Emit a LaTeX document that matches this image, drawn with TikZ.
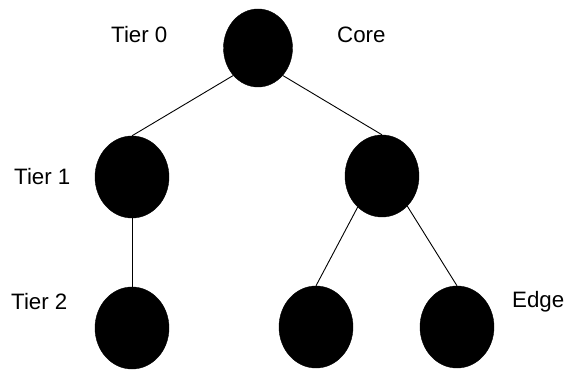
\documentclass[tikz,border=0pt]{standalone}
\usepackage{fontspec}
\setmainfont{Liberation Sans}
\usetikzlibrary{shapes.geometric}
\begin{document}
\begin{tikzpicture}[x=1pt,y=-1pt,
  vertex/.style={ellipse,fill=black,draw=black,inner sep=0pt,minimum width=74pt,minimum height=82pt},
  lbl/.style={anchor=base west,inner sep=0pt,font=\fontsize{22.3}{25}\selectfont},
  link/.style={draw=black,line width=0.9pt}]
\useasboundingbox (0,0) rectangle (565,371);
\node[vertex,minimum width=69pt,minimum height=78pt] (r) at (258,48) {};
\node[vertex] (a) at (132,177) {};
\node[vertex] (b) at (382,176) {};
\node[vertex] (c) at (132,328) {};
\node[vertex] (d) at (316,327) {};
\node[vertex] (e) at (457,327) {};
\draw[link] (r.-132) -- (a.north);
\draw[link] (r.-48) -- (b.north);
\draw[link] (a.south) -- (c.north);
\draw[link] (b.-128) -- (d.north);
\draw[link] (b.-50) -- (e.north);
\node[lbl] (t0) at (111,43) {Tier 0};
\node[lbl] (core) at (337,43) {Core};
\node[lbl] (t1) at (14,185) {Tier 1};
\node[lbl] (t2) at (11,310) {Tier 2};
\node[lbl] (edge) at (512,308) {Edge};
\end{tikzpicture}
\end{document}
